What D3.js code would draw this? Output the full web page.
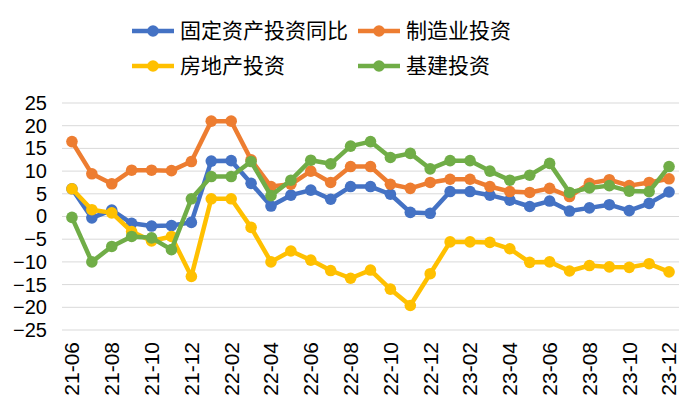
<!DOCTYPE html>
<html>
<head>
<meta charset="utf-8">
<script src="https://cdn.jsdelivr.net/npm/d3@7"></script>
<style>
	body { margin: 0; background: #fff; }
	.ticklabel { font-family: "Liberation Sans", Arial, sans-serif; font-size: 20px; fill: #000; }
	.xlabel { font-size: 21px; }
	.legtext { font-family: "Noto Sans CJK SC", sans-serif; font-size: 21px; fill: #000; }
</style>
</head>
<body>
<svg id="chartsvg" width="700" height="420"></svg>
<script>
// months shown on the x axis (21-06 .. 23-12)
var months = ["21-06","21-07","21-08","21-09","21-10","21-11","21-12",
	"22-01","22-02","22-03","22-04","22-05","22-06","22-07","22-08","22-09","22-10","22-11","22-12",
	"23-01","23-02","23-03","23-04","23-05","23-06","23-07","23-08","23-09","23-10","23-11","23-12"];

var seriesNames = ["固定资产投资同比", "制造业投资", "房地产投资", "基建投资"];
var seriesColors = ["#4472C4", "#ED7D31", "#FFC000", "#70AD47"];

var fixedAsset = [6.1, -0.3, 1.4, -1.5, -2.1, -2.0, -1.3, 12.2, 12.3, 7.3, 2.3, 4.7, 5.8, 3.8, 6.6, 6.6, 4.9, 0.9, 0.7,
	5.5, 5.5, 4.7, 3.6, 2.2, 3.4, 1.2, 1.9, 2.6, 1.3, 2.9, 5.4];
var manufacturing = [16.5, 9.4, 7.2, 10.2, 10.2, 10.1, 12.1, 21.0, 21.0, 12.5, 6.6, 7.1, 10.0, 7.5, 11.0, 11.0, 7.1, 6.2, 7.5,
	8.2, 8.2, 6.6, 5.5, 5.3, 6.2, 4.4, 7.3, 8.1, 6.8, 7.5, 8.3];
var realEstate = [6.1, 1.5, 0.8, -3.3, -5.4, -4.4, -13.2, 3.9, 3.9, -2.4, -10.0, -7.6, -9.6, -11.9, -13.6, -11.8, -16.0, -19.6, -12.6,
	-5.6, -5.6, -5.7, -7.1, -10.1, -10.0, -12.0, -10.8, -11.1, -11.2, -10.4, -12.2];
var infrastructure = [-0.2, -10.0, -6.6, -4.4, -4.7, -7.3, 3.9, 8.8, 8.8, 12.1, 4.6, 8.0, 12.4, 11.6, 15.5, 16.5, 13.0, 13.9, 10.5,
	12.3, 12.3, 10.0, 8.0, 9.1, 11.7, 5.3, 6.3, 6.8, 5.6, 5.5, 11.0];

var yTicks = [-25, -20, -15, -10, -5, 0, 5, 10, 15, 20, 25];

var allSeries = [fixedAsset, manufacturing, realEstate, infrastructure];

var svg = d3.select("#chartsvg");
var plotLeft = 62, plotRight = 679, plotTop = 103, plotBottom = 330;

var x = d3.scaleBand().domain(months).range([plotLeft, plotRight]).padding(0);
var y = d3.scaleLinear().domain([-25, 25]).range([plotBottom, plotTop]);
var xc = function(m) { return x(m) + x.bandwidth() / 2; };

//Gridlines
svg.append("g").selectAll("line").data(yTicks).enter().append("line")
	.attr("x1", plotLeft).attr("x2", plotRight)
	.attr("y1", function(d) { return y(d); }).attr("y2", function(d) { return y(d); })
	.attr("stroke", "#d9d9d9").attr("stroke-width", 1);

//Y axis labels
var yAxis = d3.axisLeft(y).tickValues(yTicks).tickSize(0).tickPadding(0);
var yg = svg.append("g").attr("transform", "translate(47,0)").call(yAxis);
yg.select(".domain").remove();
yg.selectAll("text").attr("class", "ticklabel").attr("font-size", null).attr("font-family", null);

//X axis labels, every second month, rotated
var xAxis = d3.axisBottom(x).tickValues(months.filter(function(d, i) { return i % 2 === 0; })).tickSize(0);
var xg = svg.append("g").attr("transform", "translate(0," + (plotBottom + 12) + ")").call(xAxis);
xg.select(".domain").remove();
xg.selectAll("text").attr("class", "ticklabel xlabel").attr("font-size", null).attr("font-family", null)
	.attr("transform", "rotate(-90)")
	.attr("text-anchor", "end")
	.attr("x", 0).attr("y", 0).attr("dy", "0.35em");

//Lines and markers
var line = d3.line().x(function(d, i) { return xc(months[i]); }).y(function(d) { return y(d); });
allSeries.forEach(function(s, k) {
	var g = svg.append("g");
	g.append("path").datum(s).attr("d", line)
		.attr("fill", "none").attr("stroke", seriesColors[k]).attr("stroke-width", 4.5)
		.attr("stroke-linejoin", "round");
	g.selectAll("circle").data(s).enter().append("circle")
		.attr("cx", function(d, i) { return xc(months[i]); })
		.attr("cy", function(d) { return y(d); })
		.attr("r", 5.8).attr("fill", seriesColors[k]);
});

//Legend, two rows by two columns
var legPos = [[132, 31], [358, 31], [132, 66], [358, 66]];
var leg = svg.append("g").selectAll("g").data(seriesNames).enter().append("g")
	.attr("transform", function(d, i) { return "translate(" + legPos[i][0] + "," + legPos[i][1] + ")"; });
leg.append("line").attr("x1", 0).attr("x2", 42).attr("y1", 0).attr("y2", 0)
	.attr("stroke", function(d, i) { return seriesColors[i]; }).attr("stroke-width", 4.5);
leg.append("circle").attr("cx", 21).attr("cy", 0).attr("r", 5.8)
	.attr("fill", function(d, i) { return seriesColors[i]; });
leg.append("text").attr("class", "legtext").attr("x", 48).attr("dy", "0.35em")
	.text(function(d) { return d; });
</script>
</body>
</html>
